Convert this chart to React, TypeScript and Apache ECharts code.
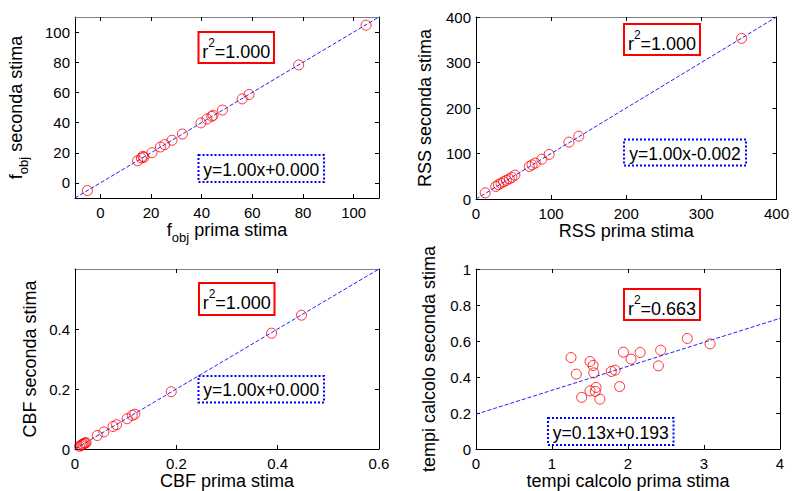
import React, { useEffect, useRef } from "react";
import * as echarts from "echarts";

// Panel 1: f_obj
const fobjPrima = [-5.1, 14.7, 16.2, 16.8, 17.2, 20.4, 23.7, 25.4, 28.3, 32.4, 39.7, 42.1, 44.0, 44.5, 48.2, 56.0, 58.7, 78.3, 104.9];
const fobjSeconda = [-5.1, 14.7, 16.5, 17.6, 17.0, 20.0, 23.8, 25.4, 28.3, 32.4, 39.8, 42.4, 44.1, 44.8, 48.3, 55.7, 58.6, 78.2, 104.6];
// Panel 2: RSS
const rssPrima = [12.3, 26.3, 29.8, 33.3, 36.8, 40.4, 44.3, 47.8, 51.8, 71.0, 74.6, 78.9, 87.7, 97.4, 123.7, 136.8, 353.5];
const rssSeconda = [13.5, 27.5, 31.5, 34.5, 38.0, 41.0, 44.5, 47.5, 52.5, 71.5, 75.0, 79.0, 87.5, 98.0, 125.0, 138.0, 353.0];
// Panel 3: CBF
const cbfPrima = [0.009, 0.012, 0.014, 0.016, 0.018, 0.020, 0.022, 0.044, 0.057, 0.075, 0.082, 0.103, 0.113, 0.118, 0.190, 0.388, 0.447];
const cbfSeconda = [0.009, 0.012, 0.015, 0.016, 0.019, 0.020, 0.021, 0.045, 0.057, 0.075, 0.081, 0.101, 0.112, 0.116, 0.191, 0.386, 0.446];
// Panel 4: tempi calcolo
const tempiPrima = [1.25, 1.32, 1.39, 1.50, 1.50, 1.54, 1.55, 1.57, 1.58, 1.63, 1.78, 1.83, 1.89, 1.94, 2.04, 2.16, 2.40, 2.43, 2.78, 3.08];
const tempiSeconda = [0.508, 0.416, 0.287, 0.323, 0.486, 0.464, 0.423, 0.320, 0.342, 0.277, 0.431, 0.438, 0.347, 0.538, 0.499, 0.536, 0.462, 0.549, 0.614, 0.584];

// Fit lines (endpoints at axis limits)
const fit1 = [[-10, -10], [110, 110]];
const fit2 = [[0, 0], [400, 400]];
const fit3 = [[0, 0], [0.6, 0.6]];
const fit4 = [[0, 0.193], [4, 0.726]];

// Tick values
const ticks1 = [0, 20, 40, 60, 80, 100];
const ticks2 = [0, 100, 200, 300, 400];
const ticks3x = [0, 0.2, 0.4, 0.6];
const ticks3y = [0, 0.2, 0.4];
const ticks4x = [0, 1, 2, 3, 4];
const ticks4y = [0, 0.2, 0.4, 0.6, 0.8, 1];

// Annotation texts
const r2Texts = ["1.000", "1.000", "1.000", "0.663"];
const eqTexts = ["y=1.00x+0.000", "y=1.00x-0.002", "y=1.00x+0.000", "y=0.13x+0.193"];

const FONT = '"Liberation Sans", Arial, Helvetica, sans-serif';

const zip = (a: number[], b: number[]) => a.map((v, i) => [v, b[i]]);

export default function App() {
  const ref = useRef<HTMLDivElement>(null);
  useEffect(() => {
    document.body.style.margin = "0";
    const chart = echarts.init(ref.current!, null, { renderer: "svg" });

    const grids = [
      { left: 75, top: 17, width: 304, height: 181 },
      { left: 476, top: 17, width: 304, height: 182 },
      { left: 75, top: 269, width: 304, height: 180 },
      { left: 476, top: 269, width: 304, height: 180 },
    ];

    const panels = [
      {
        xMin: -10, xMax: 110, xTicks: ticks1, yMin: -10, yMax: 110, yTicks: ticks1,
        xName: "{m|f}{s|obj}{m| prima stima}", yName: "{m|f}{s|obj}{m| seconda stima}",
        yGap: 47, data: zip(fobjPrima, fobjSeconda), fit: fit1,
      },
      {
        xMin: 0, xMax: 400, xTicks: ticks2, yMin: 0, yMax: 400, yTicks: ticks2,
        xName: "{m|RSS prima stima}", yName: "{m|RSS seconda stima}",
        yGap: 39, data: zip(rssPrima, rssSeconda), fit: fit2,
      },
      {
        xMin: 0, xMax: 0.6, xTicks: ticks3x, yMin: 0, yMax: 0.6, yTicks: ticks3y,
        xName: "{m|CBF prima stima}", yName: "{m|CBF seconda stima}",
        yGap: 33, data: zip(cbfPrima, cbfSeconda), fit: fit3,
      },
      {
        xMin: 0, xMax: 4, xTicks: ticks4x, yMin: 0, yMax: 1, yTicks: ticks4y,
        xName: "{m|tempi calcolo prima stima}", yName: "{m|tempi calcolo seconda stima}",
        yGap: 35, data: zip(tempiPrima, tempiSeconda), fit: fit4,
      },
    ];

    const nameRich = {
      m: { fontSize: 18, fontFamily: FONT, color: "#000", lineHeight: 21, verticalAlign: "top" },
      s: { fontSize: 13, fontFamily: FONT, color: "#000", lineHeight: 13, padding: [10, 0, 0, 0], verticalAlign: "top" },
    };

    const xAxes: any[] = [];
    const yAxes: any[] = [];
    const series: any[] = [];

    panels.forEach((p, i) => {
      xAxes.push({
        type: "value", gridIndex: i, position: "bottom", min: p.xMin, max: p.xMax,
        name: p.xName, nameLocation: "middle", nameGap: 23,
        nameTextStyle: { rich: nameRich },
        axisLine: { show: true, onZero: false, lineStyle: { color: "#000", width: 1 } },
        axisTick: { show: true, inside: true, length: 4, customValues: p.xTicks, lineStyle: { color: "#000" } },
        axisLabel: { show: true, customValues: p.xTicks, margin: 7, fontSize: 15, fontFamily: FONT, color: "#000" },
        splitLine: { show: false },
      });
      xAxes.push({
        type: "value", gridIndex: i, position: "top", min: p.xMin, max: p.xMax,
        axisLine: { show: true, onZero: false, lineStyle: { color: "#808080", width: 1 } },
        axisTick: { show: true, inside: true, length: 4, customValues: p.xTicks, lineStyle: { color: "#000" } },
        axisLabel: { show: false },
        splitLine: { show: false },
      });
      yAxes.push({
        type: "value", gridIndex: i, position: "left", min: p.yMin, max: p.yMax,
        name: p.yName, nameLocation: "middle", nameGap: p.yGap,
        nameTextStyle: { rich: nameRich },
        axisLine: { show: true, onZero: false, lineStyle: { color: "#000", width: 1 } },
        axisTick: { show: true, inside: true, length: 4, customValues: p.yTicks, lineStyle: { color: "#000" } },
        axisLabel: { show: true, customValues: p.yTicks, margin: 5, fontSize: 15, fontFamily: FONT, color: "#000" },
        splitLine: { show: false },
      });
      yAxes.push({
        type: "value", gridIndex: i, position: "right", min: p.yMin, max: p.yMax,
        axisLine: { show: true, onZero: false, lineStyle: { color: "#000", width: 1 } },
        axisTick: { show: true, inside: true, length: 4, customValues: p.yTicks, lineStyle: { color: "#000" } },
        axisLabel: { show: false },
        splitLine: { show: false },
      });
      series.push({
        type: "line", xAxisIndex: 2 * i, yAxisIndex: 2 * i, data: p.fit,
        showSymbol: false, symbol: "none", z: 2,
        lineStyle: { color: "#1f1fff", width: 1, type: [4, 2] },
      });
      series.push({
        type: "scatter", xAxisIndex: 2 * i, yAxisIndex: 2 * i, data: p.data,
        symbol: "circle", symbolSize: 10, z: 3,
        itemStyle: { color: "rgba(0,0,0,0)", borderColor: "#ff0000", borderWidth: 1 },
      });
    });

    const r2Boxes = [
      { x: 198.5, y: 32, w: 75.5, h: 31 },
      { x: 624, y: 24, w: 76, h: 31 },
      { x: 199, y: 283, w: 75.5, h: 32 },
      { x: 624, y: 289, w: 76, h: 31 },
    ];
    const eqBoxes = [
      { x: 198.5, y: 155, w: 125.5, h: 27 },
      { x: 624, y: 139.5, w: 122, h: 26 },
      { x: 198.5, y: 376, w: 125.5, h: 26.5 },
      { x: 548, y: 418, w: 125.5, h: 27 },
    ];

    const graphic: any[] = [];
    r2Boxes.forEach((b, i) => {
      graphic.push({
        type: "rect", z: 100, shape: { x: b.x, y: b.y, width: b.w, height: b.h },
        style: { fill: "#fff", stroke: "#ff0000", lineWidth: 2 },
      });
      graphic.push({
        type: "text", z: 101, x: b.x + b.w / 2, y: b.y + b.h / 2 + 1,
        style: {
          text: "{m|r}{p|2}{m|=" + r2Texts[i] + "}",
          align: "center", verticalAlign: "middle",
          rich: {
            m: { fontSize: 18, fontFamily: FONT, fill: "#000", lineHeight: 24, verticalAlign: "bottom" },
            p: { fontSize: 12, fontFamily: FONT, fill: "#000", lineHeight: 12, verticalAlign: "top" },
          },
        },
      });
    });
    eqBoxes.forEach((b, i) => {
      graphic.push({
        type: "rect", z: 100, shape: { x: b.x, y: b.y, width: b.w, height: b.h },
        style: { fill: "#fff", stroke: "#0000ff", lineWidth: 2, lineDash: [2, 2] },
      });
      graphic.push({
        type: "text", z: 101, x: b.x + b.w / 2, y: b.y + b.h / 2 + 1,
        style: {
          text: eqTexts[i], align: "center", verticalAlign: "middle",
          fontSize: 17.5, fontFamily: FONT, fill: "#000",
        },
      });
    });

    chart.setOption({
      animation: false,
      backgroundColor: "#fff",
      grid: grids,
      xAxis: xAxes,
      yAxis: yAxes,
      series,
      graphic,
    });
    return () => chart.dispose();
  }, []);
  return <div ref={ref} style={{ width: 792, height: 491 }} />;
}
